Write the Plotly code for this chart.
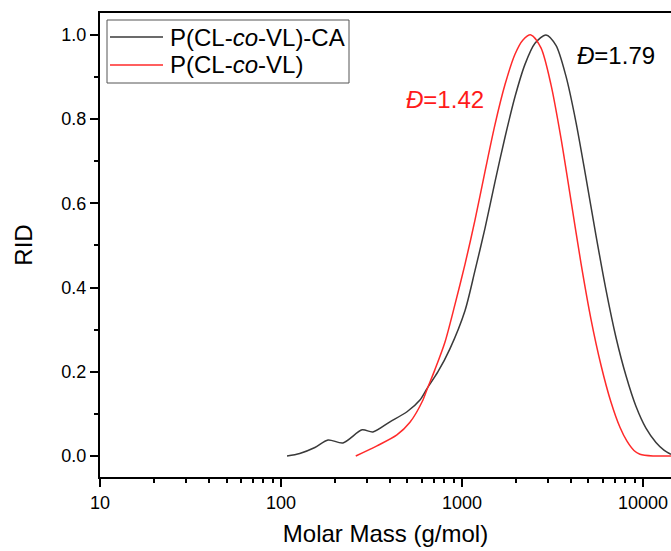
import numpy as np
import plotly.graph_objects as go

# P(CL-co-VL)-CA  (black)
ca_mass = [108, 127, 154, 182, 220, 281, 322, 400, 497, 586, 641, 737, 859, 1039, 1180,
           1341, 1522, 1729, 1963, 2229, 2532, 2912, 3307, 3755, 4264, 4843, 5500, 6245,
           7092, 8054, 9148, 10390, 11800, 13060, 14280]
ca_rid = [0.0, 0.006, 0.02, 0.038, 0.031, 0.062, 0.057, 0.081, 0.105, 0.133, 0.16, 0.20,
          0.255, 0.345, 0.44, 0.541, 0.651, 0.757, 0.853, 0.930, 0.980, 1.0, 0.975, 0.902,
          0.793, 0.661, 0.524, 0.395, 0.282, 0.191, 0.118, 0.066, 0.032, 0.014, 0.004]

# P(CL-co-VL)  (red)
p_mass = [259, 339, 437, 516, 609, 641, 709, 805, 915, 1039, 1180, 1341, 1522, 1729, 1963,
          2173, 2406, 2733, 3103, 3524, 4002, 4545, 5161, 5861, 6656, 7463, 8160, 8920,
          9626, 11360, 14280]
p_rid = [0.0, 0.024, 0.05, 0.08, 0.133, 0.158, 0.205, 0.27, 0.36, 0.455, 0.560, 0.676,
         0.787, 0.882, 0.954, 0.988, 1.0, 0.969, 0.882, 0.755, 0.607, 0.458, 0.325, 0.216,
         0.128, 0.068, 0.035, 0.013, 0.004, 0.0, 0.0]

series_names = ["P(CL-<i>co</i>-VL)-CA", "P(CL-<i>co</i>-VL)"]
series_colors = ["#3a3a3a", "#ff2a2a"]

x_ticks = [10, 100, 1000, 10000]
y_ticks = [0.0, 0.2, 0.4, 0.6, 0.8, 1.0]

FONT = "Arial, Liberation Sans, sans-serif"

fig = go.Figure()
for xs, ys, nm, col in [(ca_mass, ca_rid, series_names[0], series_colors[0]),
                        (p_mass, p_rid, series_names[1], series_colors[1])]:
    fig.add_trace(go.Scatter(x=xs, y=ys, mode="lines", name=nm, showlegend=False,
                             line=dict(color=col, width=1.5, shape="spline", smoothing=0.8)))

minor_x = [m * 10 ** d for d in range(1, 5) for m in range(2, 10)]

# legend drawn as a boxed key (plot-area relative coordinates)
PW, PH, PL, PT = 571.0, 464.0, 100.0, 13.0
def px(x):
    return (x - PL) / PW
def py(y):
    return (PT + PH - y) / PH

shapes = [dict(type="rect", xref="paper", yref="paper", x0=px(107), x1=px(349),
               y0=py(83), y1=py(20), line=dict(color="#555555", width=1),
               fillcolor="white", layer="above")]
annotations = []
for i, (nm, col) in enumerate(zip(series_names, series_colors)):
    yy = py(37 + 28 * i)
    shapes.append(dict(type="line", xref="paper", yref="paper", x0=px(110), x1=px(163),
                       y0=yy, y1=yy, line=dict(color=col, width=1.5), layer="above"))
    annotations.append(dict(x=px(168), y=yy, xref="paper", yref="paper", text=nm,
                            xanchor="left", yanchor="middle", showarrow=False,
                            font=dict(size=24, color="black", family=FONT)))

annotations += [
    dict(x=np.log10(810), y=0.846, xref="x", yref="y", text="<i>Đ</i>=1.42",
         showarrow=False, font=dict(size=24, color="#ff1a1a", family=FONT)),
    dict(x=np.log10(7100), y=0.952, xref="x", yref="y", text="<i>Đ</i>=1.79",
         showarrow=False, font=dict(size=24, color="black", family=FONT)),
]

fig.update_layout(
    width=671, height=551,
    margin=dict(l=100, r=0, t=13, b=74),
    paper_bgcolor="white", plot_bgcolor="white",
    font=dict(family=FONT, color="black"),
    showlegend=False,
    xaxis=dict(type="log", range=[1, 4.155],
               tickvals=x_ticks, ticktext=[str(v) for v in x_ticks],
               ticks="outside", ticklen=8, tickwidth=1.5, tickcolor="black",
               minor=dict(tickvals=minor_x, ticks="outside", ticklen=4, tickwidth=1.5,
                          tickcolor="black", showgrid=False),
               showline=True, linecolor="black", linewidth=2, mirror=True,
               showgrid=False, zeroline=False,
               tickfont=dict(size=18, family=FONT),
               title=dict(text="Molar Mass (g/mol)", font=dict(size=24, family=FONT), standoff=14)),
    yaxis=dict(range=[-0.05, 1.052],
               tickvals=y_ticks, ticktext=["%.1f" % v for v in y_ticks],
               ticks="outside", ticklen=8, tickwidth=1.5, tickcolor="black",
               minor=dict(dtick=0.1, ticks="outside", ticklen=4, tickwidth=1.5,
                          tickcolor="black", showgrid=False),
               showline=True, linecolor="black", linewidth=2, mirror=False,
               showgrid=False, zeroline=False,
               tickfont=dict(size=18, family=FONT),
               title=dict(text="RID", font=dict(size=24, family=FONT), standoff=22)),
    shapes=shapes,
    annotations=annotations,
)

fig.write_html("out.html")
